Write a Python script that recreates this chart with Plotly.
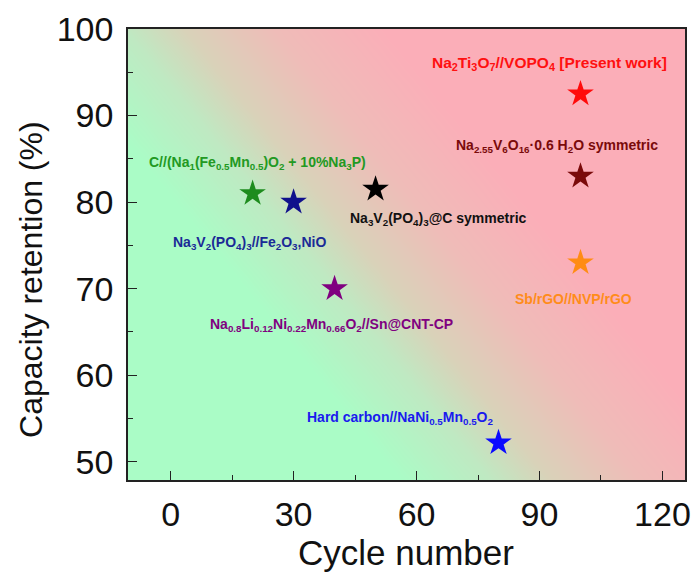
import numpy as np
import plotly.graph_objects as go

# ---- data ----
systems = [
    "C//(Na<sub>1</sub>(Fe<sub>0.5</sub>Mn<sub>0.5</sub>)O<sub>2</sub> + 10%Na<sub>3</sub>P)",
    "Na<sub>3</sub>V<sub>2</sub>(PO<sub>4</sub>)<sub>3</sub>//Fe<sub>2</sub>O<sub>3</sub>,NiO",
    "Na<sub>0.8</sub>Li<sub>0.12</sub>Ni<sub>0.22</sub>Mn<sub>0.66</sub>O<sub>2</sub>//Sn@CNT-CP",
    "Na<sub>3</sub>V<sub>2</sub>(PO<sub>4</sub>)<sub>3</sub>@C symmetric",
    "Hard carbon//NaNi<sub>0.5</sub>Mn<sub>0.5</sub>O<sub>2</sub>",
    "Na<sub>2</sub>Ti<sub>3</sub>O<sub>7</sub>//VOPO<sub>4</sub> [Present work]",
    "Na<sub>2.55</sub>V<sub>6</sub>O<sub>16</sub>·0.6 H<sub>2</sub>O symmetric",
    "Sb/rGO//NVP/rGO",
]
cycles = [20, 30, 40, 50, 80, 100, 100, 100]
retention = [81, 80, 70, 81.5, 52.2, 92.5, 83, 73]

x_ticks = [0, 30, 60, 90, 120]
y_ticks = [50, 60, 70, 80, 90, 100]

# ---- styles ----
star_colors = ["#1e8c1e", "#10108c", "#800080", "#000000", "#0a0aff", "#ff0a0a", "#7a0a0a", "#ff8c14"]
label_colors = ["#229922", "#1a2a96", "#800080", "#111111", "#1a1aee", "#ff1010", "#7a0a0a", "#ff8c1a"]
label_sizes = [14, 14, 14, 14, 14, 15.5, 14, 14]
label_shift = [(5, 30), (-44, -41), (-3, -36), (63, -30), (-98, 25), (-31, 30), (-23, 30), (-7, -36)]

xr = [-10.4, 125.5]
yr = [47.9, 100]
FONT = "Liberation Sans, Arial"

fig = go.Figure()

# gradient background (style only)
gx = np.linspace(xr[0] - 2, xr[1] + 2, 90)
gy = np.linspace(yr[0] - 1, yr[1] + 1, 70)
GX, GY = np.meshgrid(gx, gy)
px = 170.5 + 4.1 * GX
py = 28.3 + 8.67 * (100 - GY)
s = px - 190 - 0.81 * (py - 60)
Z = np.clip(s, -140, 230)
fig.add_trace(go.Heatmap(
    x=gx, y=gy, z=Z, zmin=-140, zmax=230, zsmooth="best",
    colorscale=[[0, "#aafcc6"], [0.027, "#aafcc6"], [0.27, "#bfe9c2"], [0.432, "#d9d2b9"],
                [0.676, "#efbcb8"], [0.973, "#fbaeb8"], [1, "#fbaeb8"]],
    showscale=False, hoverinfo="skip",
))

for i in range(len(cycles)):
    fig.add_trace(go.Scatter(
        x=[cycles[i]], y=[retention[i]], mode="markers",
        marker=dict(symbol="star", size=20, color=star_colors[i], line=dict(width=0)),
        showlegend=False, hoverinfo="skip",
    ))
    fig.add_annotation(
        x=cycles[i], y=retention[i], text="<b>" + systems[i] + "</b>",
        showarrow=False, xshift=label_shift[i][0], yshift=label_shift[i][1],
        font=dict(family=FONT, size=label_sizes[i], color=label_colors[i]),
    )

axis_common = dict(
    showline=True, linecolor="#222222", linewidth=1.6, mirror=True,
    ticks="inside", ticklen=9, tickwidth=1.4, tickcolor="#222222",
    showgrid=False, zeroline=False, automargin=False,
    tickfont=dict(family=FONT, size=34, color="#111111"),
)

fig.update_xaxes(
    range=xr, tickvals=x_ticks, ticktext=[str(v) for v in x_ticks],
    minor=dict(dtick=15, tick0=0, ticks="inside", ticklen=5, tickwidth=1.2, tickcolor="#222222"),
    ticklabelstandoff=3,
    **axis_common,
)
fig.update_yaxes(
    range=yr, tickvals=y_ticks, ticktext=[str(v) for v in y_ticks],
    minor=dict(dtick=5, tick0=0, ticks="inside", ticklen=5, tickwidth=1.2, tickcolor="#222222"),
    ticklabelstandoff=6,
    **axis_common,
)

fig.add_annotation(
    xref="paper", yref="paper", x=0.499, y=-0.16, yanchor="middle", xanchor="center",
    text="Cycle number", showarrow=False,
    font=dict(family=FONT, size=35, color="#111111"),
)
fig.add_annotation(
    xref="paper", yref="paper", x=-0.173, y=0.445, xanchor="center", yanchor="middle",
    text="Capacity retention (%)", showarrow=False, textangle=-90,
    font=dict(family=FONT, size=32, color="#111111"),
)

fig.update_layout(
    width=698, height=578,
    margin=dict(l=128, r=13, t=29, b=98),
    paper_bgcolor="white", plot_bgcolor="white",
    showlegend=False,
)

fig.write_html("out.html", config={"displayModeBar": False},
               post_script="document.body.style.margin='0';document.body.style.overflow='hidden';")
